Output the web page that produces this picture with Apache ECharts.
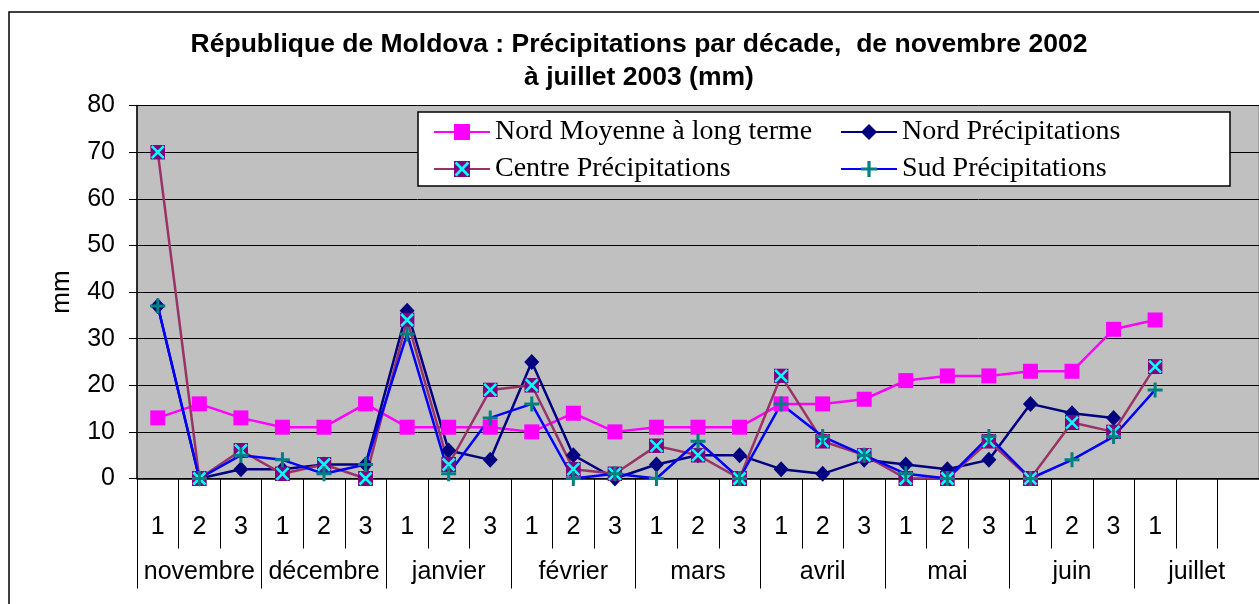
<!DOCTYPE html>
<html lang="fr">
<head>
  <meta charset="UTF-8">
  <title>Moldova précipitations</title>
  <style>
    html,body { width:100%; height:100%; margin:0; background:#fff; }
  </style>
</head>
<body>
  <div id="chart" style="width:1259px;height:604px"></div>
  <script src="https://cdn.jsdelivr.net/npm/echarts@6/dist/echarts.min.js"></script>
  <script>
    // décades (27 colonnes, la dernière coupée par le bord)
    var decades = ['1','2','3','1','2','3','1','2','3','1','2','3','1','2','3',
                   '1','2','3','1','2','3','1','2','3','1','',''];
    var months = ['novembre','décembre','janvier','février','mars','avril','mai','juin','juillet'];

    var nordMoyenne = [13,16,13,11,11,16,11,11,11,10,14,10,11,11,11,16,16,17,21,22,22,23,23,32,34];
    var nordPrecip  = [37,0,2,2,3,3,36,6,4,25,5,0,3,5,5,2,1,4,3,2,4,16,14,13];
    var centrePrecip = [70,0,6,1,3,0,34,3,19,20,2,1,7,5,0,22,8,5,0,0,8,0,12,10,24];
    var sudPrecip   = [37,0,5,4,1,3,31,1,13,16,0,1,0,8,0,16,9,5,1,0,9,0,4,9,19];

    var names = ['Nord Moyenne à long terme', 'Nord Précipitations', 'Centre Précipitations', 'Sud Précipitations'];

    var axisFont = { fontFamily: 'Liberation Sans', fontSize: 25, color: '#000' };

    var xSvg = "<svg xmlns='http://www.w3.org/2000/svg' width='30' height='30' viewBox='0 0 15 15'>" +
      "<rect width='15' height='15' fill='#800080'/>" +
      "<path d='M1.5,1.5L13.5,13.5M13.5,1.5L1.5,13.5' stroke='#00ffff' stroke-width='2.6'/></svg>";
    var centreSymbol = 'image://data:image/svg+xml;charset=utf-8,' + encodeURIComponent(xSvg);
    var plusSymbol = 'path://M4,0H6V4H10V6H6V10H4V6H0V4H4Z';

    function legendAt(name, left, top) {
      return {
        data: [name], left: left, top: top, padding: 0,
        itemWidth: 56, itemHeight: 20, selectedMode: false,
        textStyle: { fontFamily: 'Liberation Serif', fontSize: 28, color: '#000' }
      };
    }

    var myChart = echarts.init(document.getElementById('chart'));
    var option = {
      animation: false,
      title: {
        text: 'République de Moldova : Précipitations par décade,  de novembre 2002\nà juillet 2003 (mm)',
        left: 634, top: 23, textAlign: 'center',
        textStyle: { fontFamily: 'Liberation Sans', fontWeight: 'bold', fontSize: 26.5, lineHeight: 33, color: '#000' }
      },
      graphic: [
        { type: 'rect', z: 0, shape: { x: 9, y: 12, width: 1400, height: 800 },
          style: { fill: 'none', stroke: '#000', lineWidth: 1.5 } },
        { type: 'rect', z: 3, shape: { x: 418, y: 112, width: 812, height: 74 },
          style: { fill: '#fff', stroke: '#000', lineWidth: 1.5 } }
      ],
      legend: [
        legendAt(names[0], 433, 118),
        legendAt(names[1], 840, 118),
        legendAt(names[2], 433, 155),
        legendAt(names[3], 840, 155)
      ],
      grid: {
        left: 137, top: 105.5, width: 1134, height: 373,
        show: true, backgroundColor: '#c0c0c0', borderColor: '#808080', borderWidth: 1
      },
      xAxis: [{
        type: 'category', data: decades, boundaryGap: true,
        axisLine: { show: true, lineStyle: { color: '#000', width: 1.5 } },
        axisTick: { show: true, interval: 0, length: 70, lineStyle: { color: '#000', width: 1 } },
        axisLabel: Object.assign({ interval: 0, margin: 36 }, axisFont)
      }, {
        type: 'category', data: months, position: 'bottom', boundaryGap: true,
        axisLine: { show: false },
        axisTick: { show: true, interval: 0, length: 110, lineStyle: { color: '#000', width: 1 } },
        axisLabel: Object.assign({ interval: 0, margin: 81 }, axisFont)
      }],
      yAxis: {
        type: 'value', min: 0, max: 80, interval: 10,
        name: 'mm', nameLocation: 'middle', nameRotate: 90, nameGap: 62,
        nameTextStyle: { fontFamily: 'Liberation Sans', fontSize: 26, color: '#000' },
        axisLine: { show: true, lineStyle: { color: '#000', width: 1.5 } },
        axisTick: { show: true, length: 8, lineStyle: { color: '#000' } },
        axisLabel: Object.assign({ margin: 22 }, axisFont),
        splitLine: { lineStyle: { color: '#000', width: 1 } }
      },
      series: [{
        name: names[0], type: 'line', data: nordMoyenne,
        symbol: 'rect', symbolSize: 15,
        itemStyle: { color: '#ff00ff' },
        lineStyle: { color: '#ff00ff', width: 2.5 }
      }, {
        name: names[1], type: 'line', data: nordPrecip,
        symbol: 'diamond', symbolSize: [15, 16],
        itemStyle: { color: '#000080' },
        lineStyle: { color: '#000080', width: 2.5 }
      }, {
        name: names[2], type: 'line', data: centrePrecip,
        symbol: centreSymbol, symbolSize: 15,
        itemStyle: { color: '#800080' },
        lineStyle: { color: '#993366', width: 2.5 }
      }, {
        name: names[3], type: 'line', data: sudPrecip,
        symbol: plusSymbol, symbolSize: 15,
        itemStyle: { color: '#008080' },
        lineStyle: { color: '#0000ff', width: 2.5 }
      }]
    };
    myChart.setOption(option);
  </script>
</body>
</html>
